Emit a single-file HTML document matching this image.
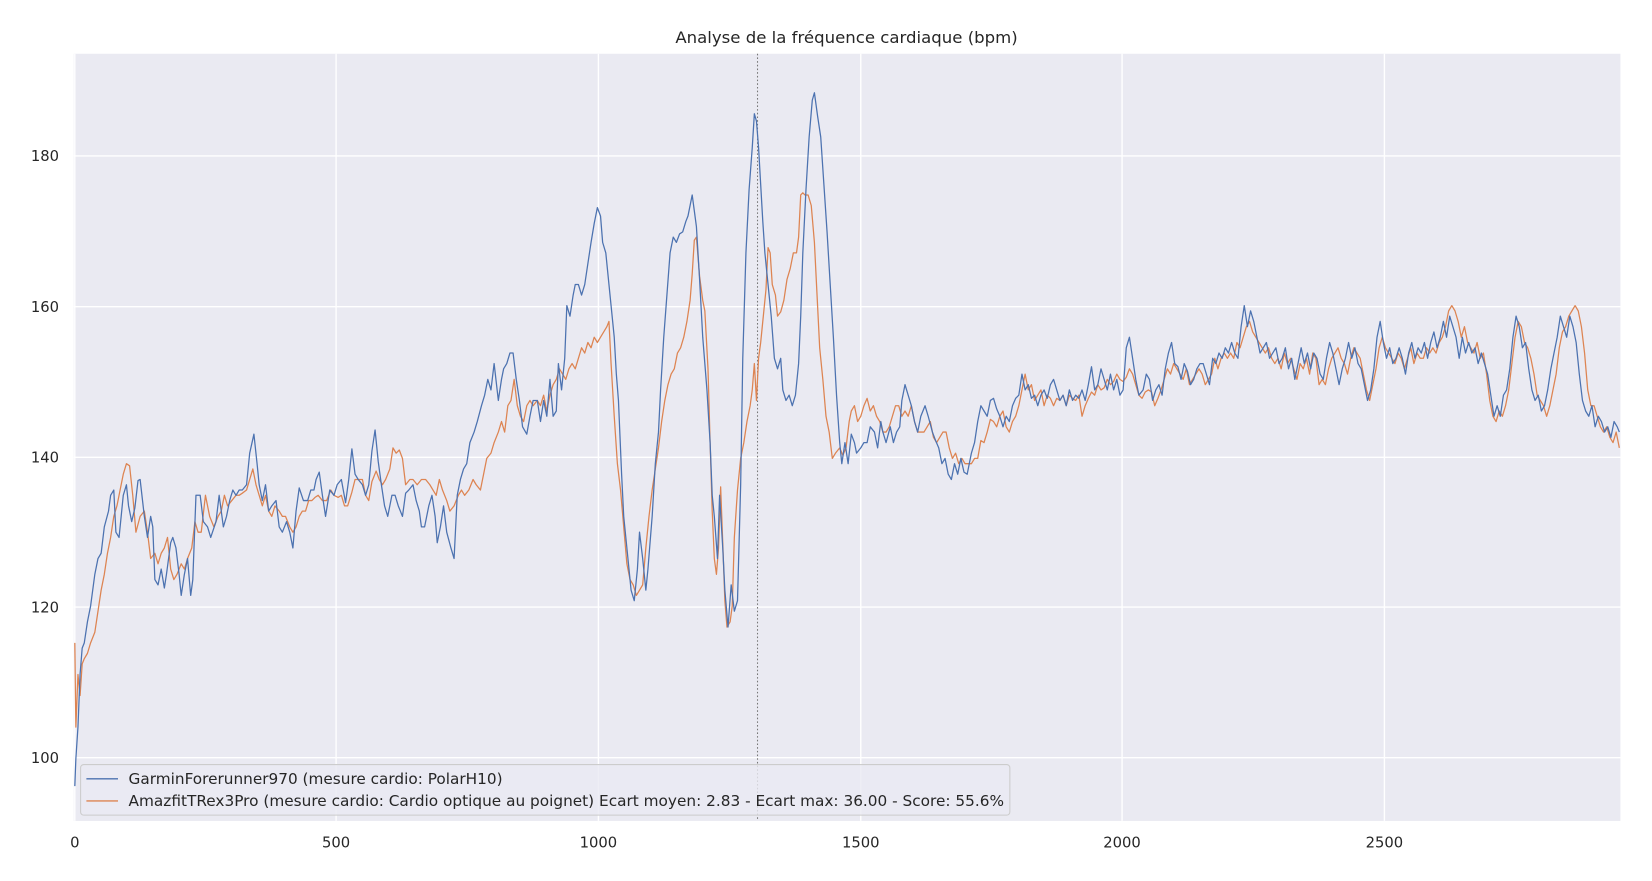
<!DOCTYPE html>
<html><head><meta charset="utf-8"><style>
body{margin:0;background:#fff;}
svg{display:block;font-family:"DejaVu Sans","Liberation Sans",sans-serif;}
</style></head><body>
<svg width="1652" height="881" viewBox="0 0 1568 836" preserveAspectRatio="none">
<rect x="0" y="0" width="1568" height="836" fill="#fff"/>
<rect x="70" y="51" width="1468" height="728" fill="#eaeaf2"/>
<g stroke="#fff" stroke-width="1.3">
<line x1="71" y1="51" x2="71" y2="779"/><line x1="319" y1="51" x2="319" y2="779"/><line x1="568" y1="51" x2="568" y2="779"/><line x1="817" y1="51" x2="817" y2="779"/><line x1="1065" y1="51" x2="1065" y2="779"/><line x1="1314" y1="51" x2="1314" y2="779"/>
<line x1="70" y1="148" x2="1538" y2="148"/><line x1="70" y1="291" x2="1538" y2="291"/><line x1="70" y1="434" x2="1538" y2="434"/><line x1="70" y1="576" x2="1538" y2="576"/><line x1="70" y1="719" x2="1538" y2="719"/>
</g>
<line x1="719" y1="51" x2="719" y2="779" stroke="#777" stroke-width="1" stroke-dasharray="1.5,2"/>
<g font-size="14" fill="#262626">
<text x="641" y="41" font-size="15" textLength="325" lengthAdjust="spacingAndGlyphs">Analyse de la fréquence cardiaque (bpm)</text>
<g text-anchor="end"><text x="56" y="153">180</text><text x="56" y="296">160</text><text x="56" y="439">140</text><text x="56" y="581">120</text><text x="56" y="724">100</text></g>
<g text-anchor="middle"><text x="71" y="804">0</text><text x="319" y="804">500</text><text x="568" y="804">1000</text><text x="817" y="804">1500</text><text x="1065" y="804">2000</text><text x="1314" y="804">2500</text></g>
</g>
<polyline fill="none" stroke="#dd8452" stroke-width="1.2" stroke-linejoin="round" points="71,610 72,690 74,640 76,660 78,630 80,625 83,620 86,610 90,600 93,580 96,560 99,545 102,525 105,510 108,490 111,480 114,465 117,450 120,440 123,442 126,470 129,505 133,490 137,485 140,505 143,530 147,525 150,535 153,525 156,520 159,510 162,540 165,550 168,545 172,535 175,540 178,530 182,520 185,495 188,505 191,505 195,470 199,490 203,500 207,490 210,485 213,470 216,480 220,475 224,470 227,470 230,468 234,465 237,455 240,445 243,460 246,470 249,480 252,470 255,485 258,490 261,480 265,485 268,490 271,490 275,500 278,505 281,500 284,490 287,485 290,485 293,475 296,475 299,472 302,470 306,475 310,475 314,465 317,470 321,472 324,470 327,480 330,480 334,467 337,455 341,455 344,455 347,470 350,475 353,457 357,447 360,455 363,460 366,455 370,445 373,425 376,430 379,427 382,435 385,460 389,455 392,455 396,460 400,455 404,455 408,460 411,465 414,470 417,455 420,465 424,475 427,485 431,480 435,470 438,465 441,470 445,465 449,455 452,460 456,465 459,450 462,435 466,430 469,420 473,410 476,400 479,410 482,385 485,380 488,360 491,385 494,395 497,400 500,385 503,380 506,385 510,380 513,385 516,375 519,390 522,375 525,365 528,360 531,350 534,355 537,360 540,350 543,345 546,350 549,340 552,330 555,335 558,325 561,330 564,320 567,325 570,320 573,315 576,310 578,305 580,345 583,395 586,440 589,465 592,500 595,535 598,550 601,555 604,565 607,560 610,555 613,520 616,490 619,465 622,445 625,425 628,400 631,380 634,365 637,355 640,350 643,335 646,330 649,320 652,305 655,285 657,260 659,228 661,225 664,262 667,285 669,295 672,350 674,420 676,485 678,530 680,545 682,520 684,462 686,515 688,570 690,595 693,590 695,575 697,510 700,465 703,435 706,420 709,400 712,385 714,370 716,345 718,380 720,340 722,325 725,295 727,275 729,235 731,240 733,270 736,280 738,300 741,296 744,285 747,265 750,255 753,240 756,240 758,225 760,185 762,183 764,185 767,185 770,195 773,230 775,270 778,330 781,360 784,395 787,410 790,435 793,430 797,425 800,432 803,425 806,400 808,390 811,385 814,400 817,395 820,385 823,378 826,390 829,385 832,395 835,400 838,410 841,410 844,405 847,395 850,385 853,385 856,395 859,390 862,395 865,385 868,400 871,410 874,410 877,410 880,405 883,400 886,415 889,420 892,415 895,410 898,410 901,425 904,435 907,430 910,440 913,435 916,440 919,440 922,440 925,435 928,435 931,418 934,420 937,410 940,398 943,400 946,405 949,395 952,390 955,405 958,410 961,400 964,395 967,385 970,370 973,355 976,370 979,365 982,380 985,375 988,370 991,385 994,375 997,378 1000,385 1003,378 1006,380 1009,375 1012,385 1015,375 1018,378 1021,380 1024,375 1027,395 1030,385 1033,378 1036,372 1039,375 1042,365 1045,370 1048,368 1051,360 1054,365 1057,362 1060,355 1063,360 1066,362 1069,358 1072,350 1075,355 1078,365 1081,375 1084,378 1087,372 1090,370 1093,372 1096,385 1099,378 1102,370 1105,360 1108,350 1111,355 1114,345 1117,350 1120,355 1123,360 1126,350 1129,365 1132,360 1135,355 1138,350 1141,355 1144,365 1147,360 1150,355 1153,340 1156,350 1159,340 1162,335 1165,340 1168,335 1171,340 1174,325 1177,330 1180,320 1183,310 1186,305 1189,315 1192,320 1195,325 1198,330 1201,335 1204,330 1207,340 1210,345 1213,340 1216,350 1219,335 1222,345 1225,340 1228,350 1231,360 1234,345 1237,350 1240,340 1243,355 1246,335 1249,340 1252,365 1255,360 1258,365 1261,350 1264,340 1267,335 1270,330 1273,340 1276,345 1279,355 1282,340 1285,330 1288,335 1291,340 1294,355 1297,370 1300,380 1303,365 1306,350 1309,330 1312,320 1315,330 1318,335 1321,340 1324,345 1327,335 1330,340 1333,350 1336,340 1339,330 1342,345 1345,335 1348,340 1351,340 1354,330 1357,335 1360,330 1363,335 1366,325 1369,320 1372,310 1375,295 1378,290 1381,295 1384,305 1387,320 1390,310 1393,325 1396,330 1399,335 1402,325 1405,340 1408,335 1411,355 1414,380 1417,395 1420,400 1423,390 1426,395 1429,385 1432,370 1435,345 1438,320 1441,305 1444,310 1447,325 1450,330 1453,340 1456,355 1459,375 1462,380 1465,385 1468,395 1471,385 1474,370 1477,355 1480,330 1483,315 1486,310 1489,300 1492,295 1495,290 1498,295 1501,310 1504,335 1507,370 1510,385 1513,385 1516,395 1519,405 1522,410 1525,405 1528,415 1531,420 1534,410 1537,425"/>
<polyline fill="none" stroke="#4c72b0" stroke-width="1.2" stroke-linejoin="round" points="71,746 72,720 74,690 76,640 78,615 80,610 83,590 86,575 90,545 93,530 96,525 99,500 103,485 105,470 108,465 110,505 113,510 115,490 117,470 120,460 122,480 125,495 128,482 131,456 133,455 137,490 140,510 143,490 145,500 147,550 150,555 153,540 156,558 158,545 162,515 164,510 167,520 170,545 172,565 175,545 178,530 181,565 183,550 186,470 190,470 193,495 197,500 200,510 205,495 208,470 212,500 215,490 218,475 221,465 224,470 227,465 230,465 234,460 237,430 241,412 244,440 246,460 249,475 252,460 255,485 258,480 262,475 265,500 268,505 272,495 275,505 278,520 281,485 284,463 288,475 292,475 295,465 298,465 300,455 303,448 306,470 309,490 313,465 317,470 320,460 324,455 328,477 331,455 334,426 337,450 340,455 344,460 347,470 350,460 353,428 356,408 359,438 362,460 365,480 368,490 372,470 375,470 378,480 382,490 385,468 388,465 392,460 395,475 398,485 400,500 403,500 407,480 410,470 413,490 415,515 418,500 421,480 424,505 428,520 431,530 434,470 437,455 440,445 443,440 446,420 450,410 453,400 457,385 460,375 463,360 466,370 469,345 473,380 476,360 478,350 481,345 484,335 487,335 490,360 493,380 496,405 500,412 503,395 506,380 510,380 513,400 516,380 519,395 522,360 525,395 528,390 530,345 533,370 536,340 538,290 541,300 544,280 546,270 549,270 552,280 555,270 558,250 561,230 564,212 567,197 570,205 572,230 575,240 578,270 580,290 583,320 585,355 587,380 590,450 592,490 594,510 597,540 599,560 602,570 605,540 607,505 610,530 613,560 615,540 619,490 622,440 625,410 627,370 630,320 633,280 636,240 639,225 642,230 645,222 648,220 651,210 653,205 655,195 657,185 659,200 661,215 664,265 667,320 671,370 674,420 676,470 678,490 681,530 683,470 686,520 688,560 691,595 694,555 697,580 700,570 703,460 705,340 708,240 711,180 714,140 716,108 718,115 720,140 722,175 724,210 726,240 729,270 732,300 735,340 738,350 741,340 743,370 746,380 749,375 752,385 755,375 758,345 760,300 762,240 765,180 768,130 771,95 773,88 776,110 779,130 782,175 785,220 788,270 791,320 794,375 797,420 799,440 802,420 805,440 808,412 811,420 813,430 817,425 820,420 823,420 826,405 830,410 833,425 836,400 838,410 841,420 845,405 848,420 851,410 854,405 856,380 859,365 862,375 865,385 868,400 871,410 874,395 878,385 881,395 885,410 888,418 891,425 894,440 897,435 900,450 903,455 906,440 909,450 912,435 915,448 918,450 922,430 925,420 928,400 931,385 934,390 937,395 940,380 943,378 946,388 949,395 952,405 955,395 958,400 961,385 964,378 967,375 970,355 973,370 976,365 979,378 982,375 985,385 988,375 991,370 994,378 997,365 1000,360 1003,370 1006,380 1009,375 1012,385 1015,370 1018,380 1021,375 1024,378 1027,370 1030,380 1033,365 1036,348 1039,370 1042,365 1045,350 1048,360 1051,370 1054,355 1057,370 1060,360 1063,375 1066,370 1069,330 1072,320 1075,340 1078,360 1081,375 1085,370 1088,355 1091,360 1094,380 1097,370 1100,365 1103,375 1106,350 1109,335 1112,325 1115,345 1118,348 1121,360 1124,345 1127,352 1130,365 1133,360 1136,350 1139,345 1142,345 1145,355 1148,365 1151,340 1154,345 1157,335 1160,340 1163,330 1166,335 1169,325 1172,335 1175,340 1178,310 1181,290 1184,310 1187,295 1190,305 1193,320 1196,335 1199,330 1202,325 1205,340 1208,335 1211,330 1214,345 1217,340 1220,330 1223,350 1226,340 1229,360 1232,345 1235,330 1238,345 1241,335 1244,350 1247,335 1250,340 1253,355 1256,360 1259,340 1262,325 1265,335 1268,350 1271,365 1274,350 1277,340 1280,325 1283,340 1286,330 1289,345 1292,350 1295,365 1298,380 1301,370 1304,350 1307,320 1310,305 1313,325 1316,340 1319,330 1322,345 1325,340 1328,330 1331,340 1334,355 1337,335 1340,325 1343,340 1346,330 1349,335 1352,325 1355,340 1358,325 1361,315 1364,330 1367,320 1370,305 1373,320 1376,300 1379,310 1382,320 1385,340 1388,320 1391,335 1394,325 1397,335 1400,330 1403,345 1406,335 1409,345 1412,355 1415,375 1418,395 1421,385 1424,395 1427,375 1430,370 1433,350 1436,320 1439,300 1442,310 1445,330 1448,325 1451,350 1454,370 1457,380 1460,375 1463,390 1466,385 1469,370 1472,350 1475,335 1478,320 1481,300 1484,310 1487,320 1490,300 1493,310 1496,325 1499,355 1502,380 1505,390 1508,395 1511,385 1514,405 1517,395 1520,400 1523,410 1526,405 1529,415 1532,400 1535,405 1537,410"/>
<rect x="76.5" y="725.5" width="882" height="48" rx="3" fill="#eaeaf2" fill-opacity="0.8" stroke="#cccccc"/>
<line x1="82" y1="739" x2="112" y2="739" stroke="#4c72b0" stroke-width="1.3"/>
<line x1="82" y1="760" x2="112" y2="760" stroke="#dd8452" stroke-width="1.3"/>
<g font-size="14.5" fill="#262626">
<text x="122" y="744" textLength="355" lengthAdjust="spacingAndGlyphs">GarminForerunner970 (mesure cardio: PolarH10)</text>
<text x="122" y="765" textLength="831" lengthAdjust="spacingAndGlyphs">AmazfitTRex3Pro (mesure cardio: Cardio optique au poignet) Ecart moyen: 2.83 - Ecart max: 36.00 - Score: 55.6%</text>
</g>
</svg>
</body></html>
